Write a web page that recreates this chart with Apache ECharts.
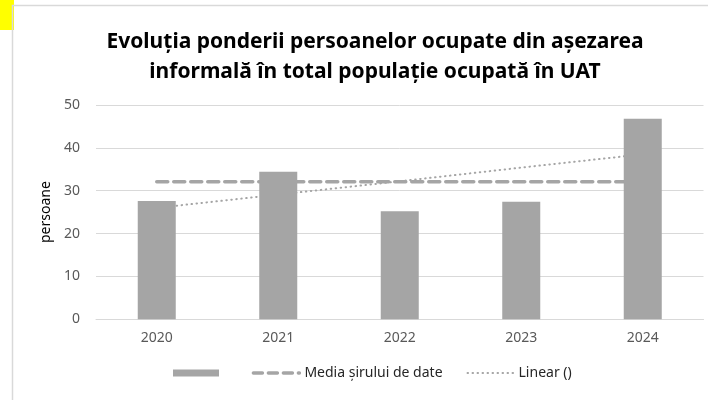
<!DOCTYPE html>
<html>
<head>
<meta charset="utf-8">
<script src="https://cdn.jsdelivr.net/npm/echarts@6/dist/echarts.min.js"></script>
<style>
  html, body { margin: 0; padding: 0; background: #fff; }
  #chart { width: 708px; height: 400px; }
</style>
</head>
<body>
<div id="chart"></div>
<script>
// valori
const years = ['2020', '2021', '2022', '2023', '2024'];
const persoane = [27.6, 34.4, 25.2, 27.4, 46.8];
const media = [32.1, 32.1, 32.1, 32.1, 32.1];
const linear = [26.0, 29.1, 32.2, 35.4, 38.5];
const yTicks = [0, 10, 20, 30, 40, 50];

const font = 'Noto Sans';
const gray = '#a5a5a5';

let myChart = echarts.init(document.getElementById('chart'));

let option = {
  animation: false,
  title: {
    text: 'Evoluția ponderii persoanelor ocupate din așezarea\ninformală în total populație ocupată în UAT',
    left: 370,
    top: 22,
    textAlign: 'center',
    textStyle: {
      fontFamily: font,
      fontSize: 21,
      fontWeight: 'bold',
      color: '#000',
      lineHeight: 30
    }
  },
  graphic: [
    {
      type: 'rect',
      shape: { x: 12.5, y: 5.5, width: 710, height: 410 },
      style: { fill: 'none', stroke: '#d9d9d9', lineWidth: 1.5 },
      z: -1
    },
    {
      type: 'rect',
      shape: { x: 0, y: 0, width: 14, height: 30 },
      style: { fill: '#ffff00' },
      z: -2
    }
  ],
  legend: {
    bottom: 15,
    left: 168,
    itemWidth: 46,
    itemHeight: 7,
    itemGap: 24,
    textStyle: { fontFamily: font, fontSize: 14, color: '#262626' },
    data: [
      { name: ' ', icon: 'rect' },
      { name: 'Media șirului de date', itemStyle: { opacity: 0 }, lineStyle: { width: 3.5, type: [9, 6], cap: 'round' } },
      { name: 'Linear ()', itemStyle: { opacity: 0 }, lineStyle: { width: 2, type: [0.5, 4.5], cap: 'round' } }
    ]
  },
  grid: {
    left: 96,
    right: 4.5,
    top: 105,
    bottom: 80.7
  },
  xAxis: {
    type: 'category',
    data: years,
    axisTick: { show: false },
    axisLine: { lineStyle: { color: '#d9d9d9', width: 1 } },
    axisLabel: { fontFamily: font, fontSize: 14, color: '#595959', margin: 12 }
  },
  yAxis: {
    type: 'value',
    min: yTicks[0],
    max: yTicks[yTicks.length - 1],
    interval: 10,
    name: 'persoane',
    nameLocation: 'middle',
    nameGap: 37,
    nameTextStyle: { fontFamily: font, fontSize: 14, color: '#000' },
    axisLine: { show: false },
    axisTick: { show: false },
    axisLabel: { fontFamily: font, fontSize: 14, color: '#595959', margin: 16 },
    splitLine: { lineStyle: { color: '#d9d9d9', width: 1 } }
  },
  series: [
    {
      name: ' ',
      type: 'bar',
      data: persoane,
      barWidth: 38,
      itemStyle: { color: gray },
      z: 5
    },
    {
      name: 'Media șirului de date',
      type: 'line',
      data: media,
      symbol: 'none',
      lineStyle: { color: gray, width: 3.5, type: [11, 6], cap: 'round' },
      itemStyle: { color: gray },
      z: 3
    },
    {
      name: 'Linear ()',
      type: 'line',
      data: linear,
      symbol: 'none',
      lineStyle: { color: gray, width: 2, type: [0.5, 4.5], cap: 'round' },
      itemStyle: { color: gray },
      z: 2
    }
  ]
};

option && myChart.setOption(option);
</script>
</body>
</html>
